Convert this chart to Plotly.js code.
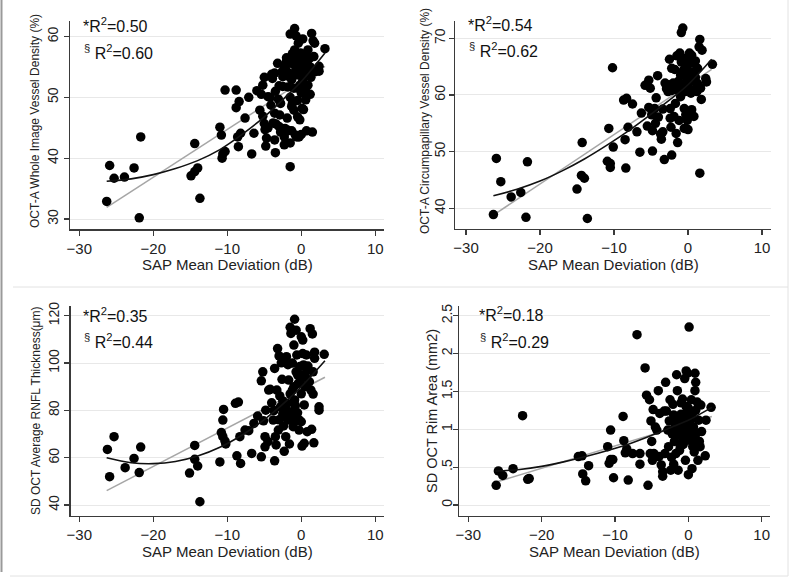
<!DOCTYPE html>
<html>
<head>
<meta charset="utf-8">
<script src="https://cdn.plot.ly/plotly-3.0.1.min.js"></script>
<style>html,body{margin:0;padding:0;background:#fff;}#chart{width:800px;height:579px;}</style>
</head>
<body>
<div id="chart"></div>
<script>
// ---------- Data ----------
// Panel A: OCT-A whole image vessel density vs SAP MD
const wvdX = [-26.3,-25.9,-25.3,-23.9,-22.6,-21.9,-21.7,-14.9,-14.4,-14.0,-14.4,-13.7,-11.0,-10.8,-10.6,-10.7,-10.3,-10.3,-8.8,-8.8,-8.4,-8.6,-8.5,-8.2,-7.6,-7.1,-6.7,-6.4,-6.0,-5.6,-5.4,-5.2,-5.0,-5.2,-5.0,-4.9,-4.8,-4.7,-4.5,-4.2,-4.1,-3.9,-3.8,-3.6,-3.6,-3.6,-3.5,-3.4,-3.2,-3.1,-3.0,-2.9,-2.8,-2.6,-2.5,-2.5,-2.3,-2.3,-2.2,-2.0,-1.9,-1.9,-1.8,-1.8,-1.6,-1.5,-1.5,-1.5,-1.3,-1.2,-1.1,-1.0,-0.9,-0.9,-0.8,-0.8,-0.7,-0.6,-0.5,-0.5,-0.4,-0.3,-0.3,-0.2,-0.1,-0.1,0.0,0.0,0.1,0.2,0.3,0.4,0.5,0.6,0.7,0.8,0.9,0.9,1.1,1.2,1.3,1.4,1.5,1.6,1.7,1.8,1.8,2.4,2.4,3.2,-2.0,-1.5,-1.0,-0.5,0.0,0.5,-1.0,-0.3,0.2,-1.8,-2.3,0.8,1.2,-0.7,0.3,-1.2,-0.2,0.6,-1.0,-0.5,-1.3,0.3,-2.8,-3.5,-4.0,-4.5,-3.0,-2.0,-1.3,-0.6,-1.5];
const wvdY = [32.9,38.8,36.7,36.9,38.4,30.2,43.5,37.1,37.8,38.4,42.4,33.4,45.1,43.8,40.7,40.0,41.1,51.2,51.2,48.3,49.3,43.5,41.9,44.1,46.6,50.0,40.7,44.1,51.1,47.9,50.5,52.0,53.3,46.9,45.7,44.7,42.0,43.3,50.1,50.0,48.7,53.1,45.8,54.0,47.4,43.0,40.9,45.6,55.6,49.7,51.9,47.1,44.3,54.2,53.4,51.8,43.5,42.2,44.9,55.9,54.2,46.6,51.7,44.6,55.6,60.4,50.0,38.6,52.9,49.0,56.7,47.9,61.3,57.8,55.1,43.8,60.1,53.7,51.5,46.8,58.9,55.9,43.5,46.3,57.3,54.5,50.7,43.9,48.2,59.6,53.4,51.2,56.2,49.6,44.5,54.5,57.8,52.0,56.4,50.5,53.3,60.5,44.3,59.3,56.7,54.2,58.9,55.1,54.3,58.0,56.5,56.0,55.5,55.0,54.8,55.5,54.0,53.7,52.8,53.5,55.0,55.8,55.0,56.8,56.8,57.2,52.0,51.0,51.5,49.5,48.5,48.0,49.0,51.0,53.8,45.0,45.2,44.4,44.5,43.5,42.5];

// Panel B: OCT-A circumpapillary vessel density vs SAP MD
const cpvdX = [-26.3,-25.9,-25.3,-23.9,-22.6,-21.9,-21.7,-15.0,-14.3,-14.4,-14.0,-13.6,-10.7,-10.9,-10.5,-10.5,-10.2,-10.1,-8.7,-8.5,-8.4,-8.3,-8.1,-7.5,-6.9,-6.5,-6.3,-5.8,-5.5,-5.3,-5.3,-5.1,-4.9,-4.8,-4.8,-4.5,-4.4,-4.3,-4.1,-4.0,-3.7,-3.6,-3.4,-3.4,-3.2,-3.1,-2.9,-2.7,-2.5,-2.4,-2.4,-2.3,-2.2,-2.2,-2.0,-1.9,-1.7,-1.6,-1.5,-1.5,-1.4,-1.3,-1.2,-1.1,-1.0,-0.9,-0.7,-0.6,-0.5,-0.5,-0.5,-0.4,-0.3,-0.2,-0.1,-0.1,0.0,0.1,0.2,0.3,0.4,0.5,0.7,0.8,0.9,1.0,1.2,1.3,1.5,1.6,1.6,1.7,1.8,1.9,2.4,2.5,3.3,-0.5,0.0,-1.0,0.5,-0.3,0.8,-1.5,1.0,0.2,-0.8,-2.2,-0.2,0.5,1.3,-1.8,-0.9,0.6,-2.6];
const cpvdY = [38.9,48.8,44.7,42.0,42.8,38.4,48.2,43.4,51.6,45.8,45.3,38.2,54.1,48.3,47.9,47.2,64.8,50.8,59.1,52.1,47.1,59.4,54.3,58.4,53.5,49.9,56.8,61.7,54.5,57.8,62.6,61.2,56.5,53.7,50.1,57.6,55.0,59.5,63.4,56.1,53.1,52.2,53.5,57.5,48.6,62.1,61.1,60.6,66.3,57.6,55.9,54.3,64.7,49.4,62.1,56.2,58.5,53.2,60.9,66.9,51.6,62.4,55.5,67.4,59.7,71.0,71.8,64.4,57.6,54.1,66.2,60.6,56.5,63.2,65.3,55.5,53.9,62.2,67.4,64.1,60.3,57.4,65.6,56.2,61.0,63.1,60.6,64.7,68.5,69.8,46.2,61.2,59.2,67.9,62.9,62.3,65.4,62.0,63.0,63.5,62.5,64.8,64.0,61.5,66.0,61.0,61.0,60.8,66.5,67.0,62.0,64.5,65.8,63.8,61.8];

// Panel C: SD OCT average RNFL thickness vs SAP MD
const rnflX = [-26.2,-25.9,-25.3,-23.8,-22.6,-21.9,-21.7,-15.1,-14.4,-14.4,-14.0,-13.7,-11.0,-10.8,-10.6,-10.5,-10.6,-10.3,-10.2,-8.9,-8.5,-8.7,-8.3,-8.2,-7.6,-7.1,-6.7,-6.4,-5.9,-5.4,-5.4,-5.2,-5.1,-4.9,-4.9,-4.8,-4.5,-4.4,-4.2,-4.0,-3.8,-3.7,-3.6,-3.6,-3.5,-3.4,-3.3,-3.2,-3.1,-3.0,-2.9,-2.8,-2.7,-2.6,-2.5,-2.4,-2.3,-2.2,-2.1,-2.0,-1.9,-1.8,-1.8,-1.7,-1.6,-1.5,-1.4,-1.3,-1.2,-1.1,-1.0,-0.9,-0.9,-0.8,-0.7,-0.7,-0.6,-0.5,-0.4,-0.3,-0.2,-0.1,0.0,0.0,0.1,0.2,0.3,0.4,0.4,0.6,0.7,0.8,0.9,1.1,1.2,1.3,1.4,1.5,1.6,1.7,1.6,1.8,1.8,2.4,2.4,3.1,-0.5,-0.2,0.3,-1.0,0.5,-1.5,0.0,-0.8,-2.0,-1.2,-0.3,-2.5,-3.0,0.8,-1.2,0.2];
const rnflY = [63.5,52.0,68.9,55.8,59.7,53.7,64.5,53.5,65.2,59.3,56.5,41.4,58.2,70.6,68.9,80.4,75.9,67.0,65.8,83.0,83.5,60.8,68.9,57.6,71.7,71.4,61.8,74.5,77.6,92.5,60.4,96.3,75.6,68.9,64.6,80.1,66.8,88.6,88.9,83.2,75.9,79.9,97.7,58.7,68.9,65.4,88.6,106.1,71.7,103.0,86.1,81.5,100.1,93.1,78.5,73.4,62.7,77.3,68.9,102.7,83.0,99.3,75.9,92.8,65.8,115.1,112.5,79.4,88.6,73.1,107.6,84.4,118.5,75.6,113.9,96.3,103.4,79.0,91.4,71.7,98.5,94.5,75.2,111.1,64.9,109.7,99.2,82.3,66.1,93.9,103.4,71.0,98.7,92.1,114.5,88.6,72.0,112.3,96.3,66.3,86.9,104.6,102.0,81.5,80.1,103.7,95.0,92.0,95.0,90.0,90.0,87.0,87.0,82.0,80.0,77.0,76.0,84.0,76.0,97.0,100.0,104.0];

// Panel D: SD OCT rim area vs SAP MD
const rimX = [-26.2,-25.9,-25.3,-23.9,-22.6,-21.9,-21.7,-15.0,-14.5,-14.4,-14.0,-13.6,-11.0,-10.8,-10.6,-10.6,-10.3,-10.2,-8.9,-8.8,-8.6,-8.4,-8.2,-7.6,-7.0,-6.6,-6.6,-5.9,-5.7,-5.5,-5.3,-5.2,-5.1,-5.0,-4.9,-4.8,-4.7,-4.5,-4.3,-4.1,-4.0,-3.9,-3.7,-3.5,-3.5,-3.3,-3.2,-3.1,-3.0,-2.8,-2.7,-2.6,-2.5,-2.4,-2.3,-2.2,-2.1,-2.0,-2.0,-1.9,-1.8,-1.7,-1.6,-1.5,-1.4,-1.3,-1.2,-1.1,-1.0,-1.0,-0.9,-0.8,-0.7,-0.6,-0.5,-0.4,-0.3,-0.3,-0.2,-0.1,0.0,0.0,0.1,0.2,0.3,0.4,0.5,0.6,0.7,0.8,0.9,0.9,1.0,1.0,1.1,1.2,1.3,1.4,1.5,1.6,1.7,1.8,2.4,2.3,3.1,-1.0,-0.5,0.0,-1.5,-0.7,0.3,-1.2,0.5,-0.3,0.2,-2.0,-0.8,-1.6,1.2];
const rimY = [0.26,0.45,0.39,0.48,1.18,0.34,0.35,0.64,0.65,0.41,0.32,0.52,0.77,0.55,0.99,0.60,0.60,0.36,1.17,0.85,0.69,0.74,0.33,0.68,2.25,0.68,0.54,1.81,1.45,0.26,1.39,0.68,1.11,0.84,0.59,1.26,0.68,1.03,0.99,1.51,0.64,1.21,0.53,0.38,0.44,1.24,0.68,1.62,1.24,0.99,0.77,1.11,1.39,0.46,0.63,0.94,1.33,0.54,1.19,0.84,1.06,0.68,1.72,1.51,0.46,0.92,1.17,0.77,1.35,1.03,0.81,1.40,1.10,0.87,1.67,0.59,1.77,1.21,0.99,1.74,1.28,0.40,2.35,0.90,1.12,1.39,0.48,0.77,1.03,0.70,1.74,1.51,1.62,1.25,0.95,1.36,0.59,1.12,0.84,0.77,1.32,0.97,1.12,0.65,1.29,1.20,1.15,1.05,0.95,0.80,0.85,0.72,1.20,1.30,1.00,1.00,0.92,1.10,0.85];

// Fitted curves (quadratic = black, linear = grey)
const fitX = [-26.3,-23,-20,-17,-14,-11,-8,-5,-2,0,3.2];
const wvdQuad  = [36.2,36.6,37.3,38.3,39.6,41.4,43.9,46.8,50.2,52.6,57.3];
const cpvdQuad = [42.2,43.4,44.8,46.6,48.7,51.1,53.7,56.6,59.6,61.8,66.3];
const rnflQuad = [60.0,57.9,57.5,58.4,60.7,64.4,69.6,76.1,84.0,90.0,101.0];
const rimQuad  = [0.45,0.47,0.51,0.57,0.64,0.72,0.81,0.92,1.04,1.12,1.29];
const linX = [-26.3, 3.2];
const wvdLin  = [31.9, 55.1];
const cpvdLin = [38.8, 64.5];
const rnflLin = [46.1, 94.0];
const rimLin  = [0.30, 1.17];

const yTitles = ["OCT-A Whole Image Vessel Density (%)", "OCT-A Circumpapillary Vessel Density (%)", "SD OCT Average RNFL Thickness(μm)", "SD OCT Rim Area (mm2)"];
const xTitle = "SAP Mean Deviation (dB)";
const r2Linear = ["0.50", "0.54", "0.35", "0.18"];
const r2Quad   = ["0.60", "0.62", "0.44", "0.29"];
const xTicks = [-30, -20, -10, 0, 10];
const rimTickVals = [0, 0.5, 1, 1.5, 2, 2.5];
const rimTickText = ["0", ".5", "1", "1.5", "2", "2.5"];

// ---------- Build ----------
const W = 800, H = 579;
const px = v => v / W;
const py = v => 1 - v / H;
const FONT = "Liberation Sans, Arial, sans-serif";

const panels = [
  {x: wvdX, y: wvdY, q: wvdQuad, l: wvdLin, xd: [70, 384], yd: [20.7, 229], xr: [-31.26, 11.18], yr: [28.36, 62.6], ytv: [30,40,50,60], so: 0},
  {x: cpvdX, y: cpvdY, q: cpvdQuad, l: cpvdLin, xd: [455, 770.7], yd: [20.7, 228.7], xr: [-31.49, 11.18], yr: [36.4, 73.1], ytv: [40,50,60,70], so: -2},
  {x: rnflX, y: rnflY, q: rnflQuad, l: rnflLin, xd: [70.7, 384], yd: [306, 515.7], xr: [-31.16, 11.18], yr: [35.5, 124.1], ytv: [40,60,80,100,120], so: 0},
  {x: rimX, y: rimY, q: rimQuad, l: rimLin, xd: [459.3, 770], yd: [306, 515.7], xr: [-31.23, 11.13], yr: [-0.141, 2.628], ytv: rimTickVals, ytt: rimTickText, so: -5}
];

const traces = [];
const layout = {
  width: W, height: H,
  margin: {l: 0, r: 0, t: 0, b: 0},
  paper_bgcolor: "#fff", plot_bgcolor: "#fff",
  showlegend: false,
  font: {family: FONT, color: "#222"},
  annotations: [], shapes: []
};

const ytitlePos = [[35, 121, 12], [425, 121, 12], [36, 411, 12], [432, 411, 14.5]];
const xtitlePos = [[228, 265], [613, 265], [228, 551.5], [614, 551.5]];
const r2Pos = [[81, 25, 51.5], [466, 24, 50.5], [81, 315, 341.5], [477, 313.5, 341.5]];

panels.forEach((p, i) => {
  const n = i === 0 ? "" : String(i + 1);
  const xa = "x" + n, ya = "y" + n;
  traces.push({type: "scatter", mode: "lines", x: linX, y: p.l, xaxis: xa, yaxis: ya,
    line: {color: "#a6a6a6", width: 1.5}, hoverinfo: "skip"});
  traces.push({type: "scatter", mode: "markers", x: p.x, y: p.y, xaxis: xa, yaxis: ya,
    marker: {color: "#000", size: 9.5, line: {width: 0}}});
  traces.push({type: "scatter", mode: "lines", x: fitX, y: p.q, xaxis: xa, yaxis: ya,
    line: {color: "#111", width: 1.6, shape: "spline"}, hoverinfo: "skip"});

  layout["xaxis" + n] = {
    domain: [px(p.xd[0]), px(p.xd[1])], range: p.xr, anchor: ya,
    showline: true, linecolor: "#3a3a3a", linewidth: 1.5,
    ticks: "outside", ticklen: 5, tickwidth: 1.2, tickcolor: "#3a3a3a",
    tickvals: xTicks, showgrid: false, zeroline: false,
    tickfont: {size: 15, family: FONT, color: "#222"}, fixedrange: true
  };
  const yax = {
    domain: [py(p.yd[1]), py(p.yd[0])], range: p.yr, anchor: xa,
    showline: true, linecolor: "#3a3a3a", linewidth: 1.5,
    ticks: "outside", ticklen: 5, tickwidth: 1.2, tickcolor: "#3a3a3a",
    tickvals: p.ytv, tickangle: -90, ticklabelstandoff: p.so,
    showgrid: true, gridcolor: "#e8e8e8", gridwidth: 1, zeroline: false,
    tickfont: {size: 14, family: FONT, color: "#222"}, fixedrange: true
  };
  if (p.ytt) yax.ticktext = p.ytt;
  layout["yaxis" + n] = yax;

  layout.annotations.push({xref: "paper", yref: "paper", x: px(ytitlePos[i][0]), y: py(ytitlePos[i][1]),
    text: yTitles[i], textangle: -90, showarrow: false, xanchor: "center", yanchor: "middle",
    font: {size: ytitlePos[i][2], family: FONT, color: "#222"}});
  layout.annotations.push({xref: "paper", yref: "paper", x: px(xtitlePos[i][0]), y: py(xtitlePos[i][1]),
    text: xTitle, showarrow: false, xanchor: "center", yanchor: "middle",
    font: {size: 15, family: FONT, color: "#222"}});
  layout.annotations.push({xref: "paper", yref: "paper", x: px(r2Pos[i][0]), y: py(r2Pos[i][1]),
    text: "*R<sup>2</sup>=" + r2Linear[i], showarrow: false, xanchor: "left", yanchor: "middle",
    font: {size: 16, family: FONT, color: "#111"}});
  layout.annotations.push({xref: "paper", yref: "paper", x: px(r2Pos[i][0] + 1), y: py(r2Pos[i][2]),
    text: "<sup>§</sup> R<sup>2</sup>=" + r2Quad[i], showarrow: false, xanchor: "left", yanchor: "middle",
    font: {size: 16, family: FONT, color: "#111"}});
});

// faint panel frame lines of the composite figure
const frame = (x0, y0, x1, y1, c, w) => layout.shapes.push({type: "line", xref: "paper", yref: "paper",
  x0: px(x0), y0: py(y0), x1: px(x1), y1: py(y1), line: {color: c, width: w}});
frame(1.5, 0, 1.5, 572, "#9a9a9a", 2);
frame(13, 287, 788, 287, "#e2e2e2", 1);
frame(10, 576, 788, 576, "#e2e2e2", 1);
frame(788, 0, 788, 576, "#e2e2e2", 1);

Plotly.newPlot("chart", traces, layout, {displayModeBar: false, staticPlot: true});
</script>
</body>
</html>
